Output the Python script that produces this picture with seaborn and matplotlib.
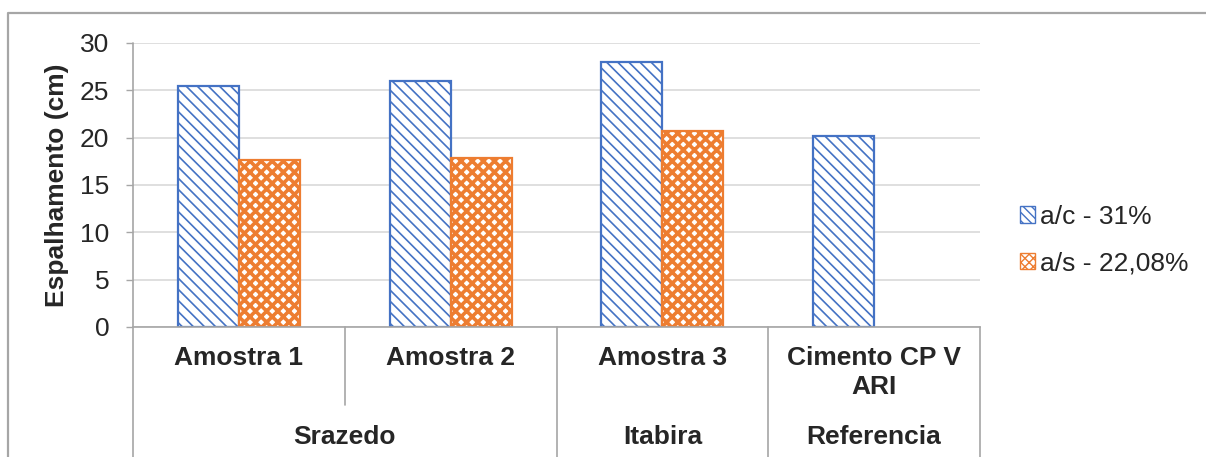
import matplotlib
matplotlib.use("Agg")
import matplotlib.pyplot as plt
from matplotlib.lines import Line2D
from matplotlib.patches import Patch
import numpy as np
import pandas as pd
import seaborn as sns

# Data
samples = ["Amostra 1", "Amostra 2", "Amostra 3", "Cimento CP V\nARI"]
origins = ["Srazedo", "Itabira", "Referencia"]
origin_spans = [(0, 2), (2, 3), (3, 4)]  # category index ranges per origin
series = ["a/c - 31%", "a/s - 22,08%"]
ac_values = [25.5, 26.0, 28.0, 20.2]
as_values = [17.6, 17.8, 20.7, np.nan]
yticks = [0, 5, 10, 15, 20, 25, 30]

df = pd.DataFrame({
    "Amostra": samples * 2,
    "Serie": [series[0]] * 4 + [series[1]] * 4,
    "Espalhamento": ac_values + as_values,
})

sns.set_theme(style="white")
plt.rcParams["font.family"] = ["Liberation Sans", "DejaVu Sans"]

BLUE = "#4472C4"
ORANGE = "#ED7D31"
AXGRAY = "#A6A6A6"
W, H = 1206, 457
FS = 19

fig = plt.figure(figsize=(W / 100, H / 100), dpi=100)
ax = fig.add_axes([133 / W, 1 - 327 / H, (980 - 133) / W, (327 - 43) / H])

sns.barplot(data=df, x="Amostra", y="Espalhamento", hue="Serie",
            order=samples, hue_order=series, width=0.575, dodge=True,
            palette=["white", "white"], saturation=1, legend=False,
            errorbar=None, ax=ax, zorder=3)

styles = {series[0]: (BLUE, "\\\\\\", 1.2), series[1]: (ORANGE, "xxx", 2.6)}
for container, name in zip(ax.containers, series):
    color, hatch, hw = styles[name]
    for bar in container:
        bar.set_facecolor("white")
        bar.set_edgecolor(color)
        bar.set_linewidth(1.6)
        bar.set_hatch(hatch)
        if hasattr(bar, "set_hatch_linewidth"):
            bar.set_hatch_linewidth(hw)

ax.set_xlim(-0.5, 3.5)
ax.set_ylim(0, 30)
ax.set_yticks(yticks)
ax.set_yticklabels([str(t) for t in yticks], fontsize=FS)
ax.yaxis.grid(True, color="#D9D9D9", linewidth=1.2, zorder=0)
ax.set_axisbelow(True)
ax.tick_params(axis="y", length=5, width=1, color=AXGRAY, left=True, pad=12)
ax.set_xticks([])
ax.set_xlabel("")
ax.set_ylabel("Espalhamento (cm)", fontsize=FS, fontweight="bold", labelpad=8)

for side in ["top", "right"]:
    ax.spines[side].set_visible(False)
ax.spines["left"].set_visible(False)
ax.spines["bottom"].set_color(AXGRAY)
ax.spines["bottom"].set_linewidth(1.2)
ax.spines["bottom"].set_zorder(4)

# Multi-level category axis drawn below the plot area
trans = ax.get_xaxis_transform()
ypix = lambda p: 1 - (p - 43) / (327 - 43)  # pixel row -> axes fraction

ax.add_line(Line2D([-0.5, -0.5], [1, ypix(H)], transform=trans, color=AXGRAY,
                   lw=1.2, clip_on=False, zorder=4))
for x in [1.5, 2.5, 3.5]:
    ax.add_line(Line2D([x, x], [0, ypix(H)], transform=trans, color=AXGRAY,
                       lw=1.2, clip_on=False))
ax.add_line(Line2D([0.5, 0.5], [0, ypix(405)], transform=trans, color=AXGRAY,
                   lw=1.2, clip_on=False))

for i, s in enumerate(samples):
    ax.text(i, ypix(346), s, transform=trans, ha="center", va="top",
            fontsize=FS, fontweight="bold", linespacing=1.28)
for name, (a, b) in zip(origins, origin_spans):
    ax.text((a + b - 1) / 2, ypix(437), name, transform=trans, ha="center",
            va="center", fontsize=FS, fontweight="bold")

handles = [Patch(facecolor="white", edgecolor=BLUE, hatch="\\\\\\\\", label=series[0]),
           Patch(facecolor="white", edgecolor=ORANGE, hatch="xxxx", label=series[1])]
fig.legend(handles=handles, loc="center left", bbox_to_anchor=(996 / W, 1 - 240 / H),
           frameon=False, fontsize=FS, handlelength=0.57, handleheight=0.57,
           handletextpad=0.2, labelspacing=0.85)

# Chart frame
fig.add_artist(Line2D([8 / W, 8 / W, 1.0], [0, 1 - 13 / H, 1 - 13 / H],
                      transform=fig.transFigure, color=AXGRAY, lw=1.6))

fig.savefig("out.png", dpi=100, facecolor="white")
